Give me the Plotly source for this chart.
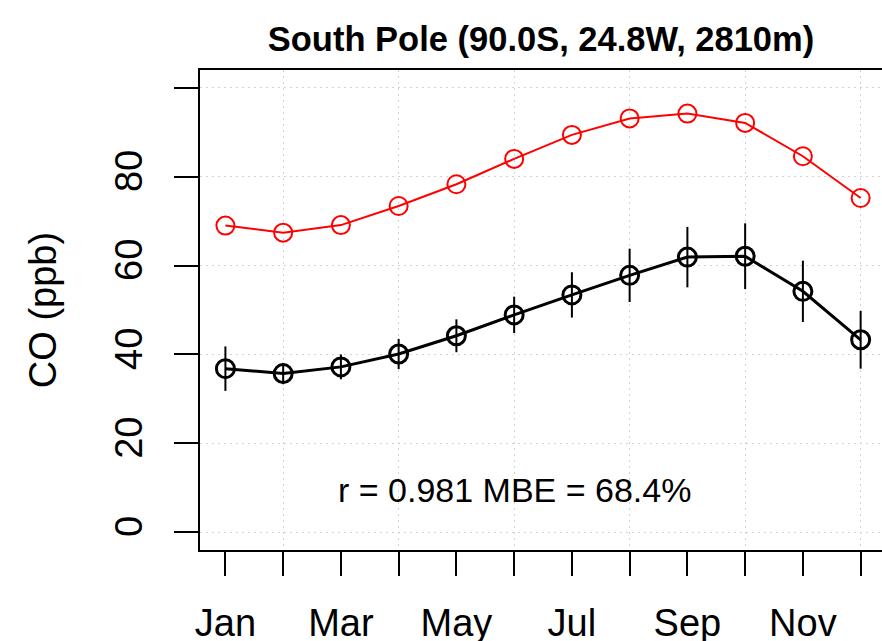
import plotly.graph_objects as go

months = ["Jan", "Feb", "Mar", "Apr", "May", "Jun", "Jul", "Aug", "Sep", "Oct", "Nov", "Dec"]
month_idx = list(range(1, 13))
tick_labels = ["Jan", "", "Mar", "", "May", "", "Jul", "", "Sep", "", "Nov", ""]

model_co = [69.0, 67.4, 69.1, 73.4, 78.3, 84.0, 89.4, 93.1, 94.2, 92.1, 84.6, 75.2]
obs_co = [36.8, 35.7, 37.2, 40.1, 44.2, 48.9, 53.4, 57.8, 61.9, 62.1, 54.2, 43.3]
obs_sd = [5.0, 2.4, 2.8, 3.4, 3.7, 4.1, 5.1, 6.0, 6.8, 7.4, 6.9, 6.5]

y_ticks = [0, 20, 40, 60, 80, 100]
y_ticktext = ["0", "20", "40", "60", "80", ""]

title_text = "South Pole (90.0S, 24.8W, 2810m)"
stats_text = "r = 0.981 MBE = 68.4%"

FONT = "Liberation Sans, Arial, Helvetica, sans-serif"

fig = go.Figure()

fig.add_trace(go.Scatter(
    x=month_idx, y=model_co, mode="lines+markers",
    line=dict(color="#ff0000", width=2),
    marker=dict(symbol="circle-open", size=18, color="#ff0000", line=dict(width=2, color="#ff0000")),
    showlegend=False, hoverinfo="skip",
))

fig.add_trace(go.Scatter(
    x=month_idx, y=obs_co, mode="lines+markers",
    line=dict(color="#000000", width=3),
    marker=dict(symbol="circle-open", size=18, color="#000000", line=dict(width=3, color="#000000")),
    error_y=dict(type="data", array=obs_sd, visible=True, color="#000000", thickness=2, width=0),
    showlegend=False, hoverinfo="skip",
))

fig.add_annotation(
    x=6, y=9.6, xref="x", yref="y", text=stats_text, showarrow=False,
    font=dict(family=FONT, size=34, color="#000000"), xanchor="center", yanchor="middle",
)

fig.update_layout(
    width=882, height=641,
    margin=dict(l=200, r=0, t=70, b=91, autoexpand=False),
    paper_bgcolor="white", plot_bgcolor="white",
    title=dict(text="<b>" + title_text + "</b>", x=0.5, xref="paper", y=1 - 39 / 641,
               yref="container", xanchor="center", yanchor="middle",
               font=dict(family=FONT, size=34.5, color="#000000")),
    font=dict(family=FONT, color="#000000"),
)

fig.update_xaxes(
    range=[0.56, 12.37], tickvals=month_idx, ticktext=tick_labels,
    ticks="outside", ticklen=24, tickwidth=2, tickcolor="#000000",
    showline=True, linewidth=2, linecolor="#000000", mirror=True,
    showgrid=False, zeroline=False, automargin=False,
    tickfont=dict(family=FONT, size=38, color="#000000"),
    ticklabelstandoff=14,
    minor=dict(tick0=2, dtick=2, showgrid=True, gridcolor="#d3d3d3", griddash="2px,4px", gridwidth=1, ticks=""),
    layer="above traces",
)

fig.update_yaxes(
    range=[-4, 104], tickvals=y_ticks, ticktext=y_ticktext, tickangle=-90,
    ticks="outside", ticklen=24, tickwidth=2, tickcolor="#000000",
    showline=True, linewidth=2, linecolor="#000000", mirror=False,
    showgrid=True, gridcolor="#d3d3d3", griddash="2px,4px", gridwidth=1, zeroline=False,
    automargin=False,
    tickfont=dict(family=FONT, size=38, color="#000000"),
    ticklabelstandoff=17,
    title=dict(text="CO (ppb)", font=dict(family=FONT, size=38, color="#000000"), standoff=39),
    layer="above traces",
)

fig.write_html(
    "out.html",
    config={"displayModeBar": False},
    post_script="document.body.style.margin='0px';document.body.style.overflow='hidden';",
)
